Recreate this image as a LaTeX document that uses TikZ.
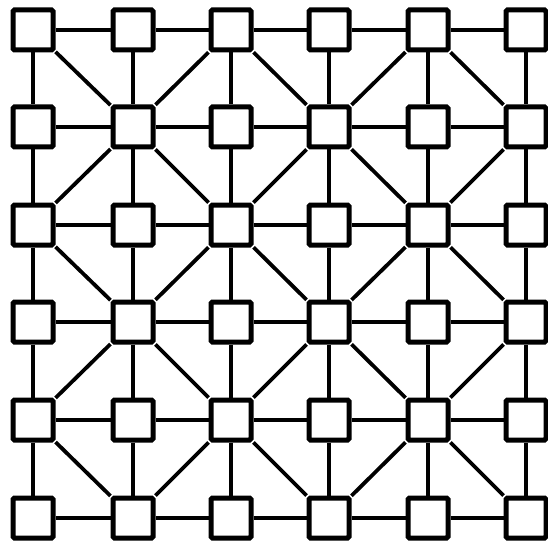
\documentclass[tikz,border=0pt]{standalone}
\begin{document}
\begin{tikzpicture}[x=1pt,y=-1pt,
 sq/.style={draw,line width=5pt,fill=white,minimum size=40pt,inner sep=0pt,rounded corners=1.5pt},
 ln/.style={line width=3.8pt}]
\useasboundingbox (0,0) rectangle (548,548);
\foreach \i/\x in {0/33,1/133,2/231,3/329,4/428,5/526}
 \foreach \j/\y in {0/30,1/127,2/225,3/322,4/420,5/518}
  \node[sq] (n\i\j) at (\x,\y) {};
\foreach \i in {0,...,4}
 \foreach \j in {0,...,5} {
  \pgfmathtruncatemacro\k{\i+1}
  \draw[ln] (n\i\j) -- (n\k\j);
  \draw[ln] (n\j\i) -- (n\j\k);
 }
\foreach \a in {0,...,4}
 \foreach \b in {0,...,4} {
  \pgfmathtruncatemacro\c{\a+1}
  \pgfmathtruncatemacro\d{\b+1}
  \pgfmathtruncatemacro\s{\a+\b}
  \ifodd\s\relax
   \draw[ln] (n\c\b) -- (n\a\d);
  \else
   \draw[ln] (n\a\b) -- (n\c\d);
  \fi
 }
\end{tikzpicture}
\end{document}
